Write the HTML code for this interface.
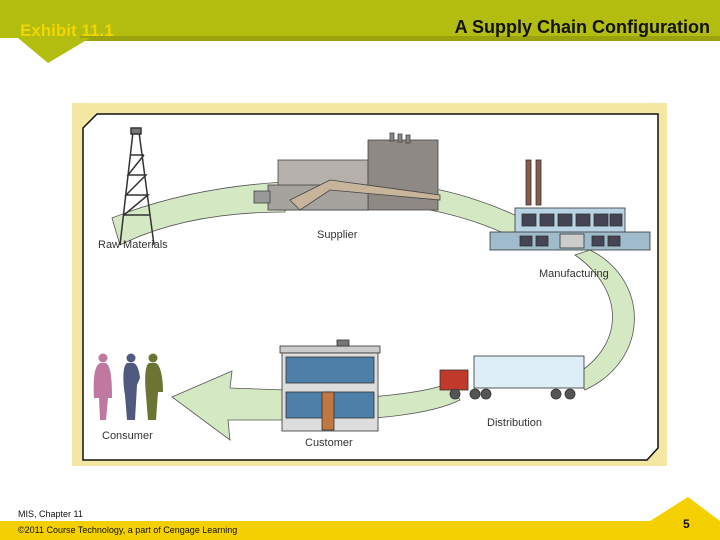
<!DOCTYPE html>
<html><head><style>
html,body{margin:0;padding:0;width:720px;height:540px;overflow:hidden;background:#fff;font-family:"Liberation Sans",sans-serif}
</style></head><body>
<svg width="720" height="540" viewBox="0 0 720 540" xmlns="http://www.w3.org/2000/svg" font-family="Liberation Sans, sans-serif">
<rect x="0" y="0" width="720" height="38" fill="#b2bd0f"/>
<rect x="80" y="36" width="640" height="5" fill="#9aa30e"/>
<polygon points="18,38 90,38 48,63" fill="#b2bd0f"/>
<text x="20" y="36" font-size="17" font-weight="bold" fill="#f2d600">Exhibit 11.1</text>
<text x="710" y="33" font-size="18" font-weight="bold" fill="#111" text-anchor="end">A Supply Chain Configuration</text>

<rect x="0" y="521" width="720" height="19" fill="#f5d000"/>
<polygon points="650,521 688,497 720,521" fill="#f5d000"/>
<text x="683" y="528" font-size="12" font-weight="bold" fill="#111">5</text>
<text x="18" y="517" font-size="9" fill="#111">MIS, Chapter 11</text>
<text x="18" y="533" font-size="9" fill="#111">©2011 Course Technology, a part of Cengage Learning</text>

<rect x="72" y="103" width="595" height="363" fill="#f3e7a2"/>
<polygon points="97,114 658,114 658,448 647,460 83,460 83,128" fill="#fff" stroke="#111" stroke-width="1.5"/>

<!-- flow bands -->
<g fill="#d4e8c4" stroke="#555" stroke-width="0.8">
<path d="M112,218 C170,195 230,185 285,182 L285,212 C230,212 170,220 120,245 Z"/>
<path d="M430,188 C470,195 505,210 530,222 L528,245 C500,230 470,218 430,210 Z"/>
<path d="M590,250 C650,280 650,360 585,390 L575,375 C625,345 625,290 575,255 Z"/>
<path d="M450,383 C420,395 360,398 320,400 L320,420 C370,420 430,415 460,400 Z"/>
<path d="M285,390 L230,388 L232,371 L172,397 L230,440 L228,420 L285,420 Z"/>
</g>

<!-- oil derrick -->
<g stroke="#333" stroke-width="1.5" fill="none">
<path d="M133,132 L120,245 M139,132 L154,245 M124,215 L150,215 M126,195 L148,195 M128,175 L146,175 M130,155 L144,155 M124,215 L148,195 L126,195 L146,175 L128,175 L144,155"/>
<rect x="131" y="128" width="10" height="6" fill="#777"/>
</g>
<!-- supplier -->
<g stroke="#444" stroke-width="0.8">
<rect x="278" y="160" width="90" height="50" fill="#b5b0ac"/>
<rect x="368" y="140" width="70" height="70" fill="#8e8985"/>
<rect x="268" y="185" width="100" height="25" fill="#a6a29e"/>
<path d="M290,200 L330,180 L440,195 L440,200 L330,190 L300,210 Z" fill="#c8b49a"/>
<rect x="254" y="191" width="16" height="12" fill="#999"/>
<rect x="390" y="133" width="4" height="8" fill="#888"/><rect x="398" y="134" width="4" height="8" fill="#888"/><rect x="406" y="135" width="4" height="8" fill="#888"/>
</g>
<!-- factory -->
<g stroke="#333" stroke-width="0.8">
<rect x="526" y="160" width="5" height="45" fill="#8a5a4a"/>
<rect x="536" y="160" width="5" height="45" fill="#8a5a4a"/>
<rect x="515" y="208" width="110" height="25" fill="#b8d4e4"/>
<rect x="490" y="232" width="160" height="18" fill="#a0bccc"/>
<g fill="#445">
<rect x="522" y="214" width="14" height="12"/><rect x="540" y="214" width="14" height="12"/><rect x="558" y="214" width="14" height="12"/><rect x="576" y="214" width="14" height="12"/><rect x="594" y="214" width="14" height="12"/><rect x="610" y="214" width="12" height="12"/>
<rect x="520" y="236" width="12" height="10"/><rect x="536" y="236" width="12" height="10"/><rect x="592" y="236" width="12" height="10"/><rect x="608" y="236" width="12" height="10"/>
</g>
<rect x="560" y="234" width="24" height="14" fill="#ccc"/>
</g>
<!-- customer building -->
<g stroke="#333" stroke-width="0.8">
<rect x="280" y="346" width="100" height="7" fill="#ccc"/>
<rect x="282" y="353" width="96" height="78" fill="#ddd"/>
<rect x="286" y="357" width="88" height="26" fill="#4d7fa8"/>
<rect x="286" y="392" width="88" height="26" fill="#4d7fa8"/>
<rect x="322" y="392" width="12" height="38" fill="#c07840"/>
<rect x="337" y="340" width="12" height="6" fill="#777"/>
</g>
<!-- truck -->
<g stroke="#333" stroke-width="0.8">
<rect x="474" y="356" width="110" height="32" fill="#ddeef8"/>
<rect x="440" y="370" width="28" height="20" fill="#c0392b"/>
<g fill="#555"><circle cx="455" cy="394" r="5"/><circle cx="475" cy="394" r="5"/><circle cx="486" cy="394" r="5"/><circle cx="556" cy="394" r="5"/><circle cx="570" cy="394" r="5"/></g>
</g>
<!-- people -->
<circle cx="103" cy="358" r="4.5" fill="#c078a0"/>
<path d="M100,363 C94,366 93,380 94,398 L99,398 L100,420 L106,420 L108,398 L112,398 C112,380 111,366 106,363 Z" fill="#c078a0"/>
<circle cx="131" cy="358" r="4.5" fill="#505a80"/>
<path d="M127,363 C122,366 123,385 125,395 L127,420 L135,420 L137,385 L140,378 C139,368 136,363 133,363 Z" fill="#505a80"/>
<circle cx="153" cy="358" r="4.5" fill="#6c7434"/>
<path d="M149,363 C144,366 145,385 146,395 L148,420 L156,420 L158,392 L163,392 C163,375 160,365 156,363 Z" fill="#6c7434"/>

<g font-size="11" fill="#333">
<text x="98" y="248">Raw Materials</text>
<text x="317" y="238">Supplier</text>
<text x="539" y="277">Manufacturing</text>
<text x="487" y="426">Distribution</text>
<text x="102" y="439">Consumer</text>
<text x="305" y="446">Customer</text>
</g>
</svg>
</body></html>
